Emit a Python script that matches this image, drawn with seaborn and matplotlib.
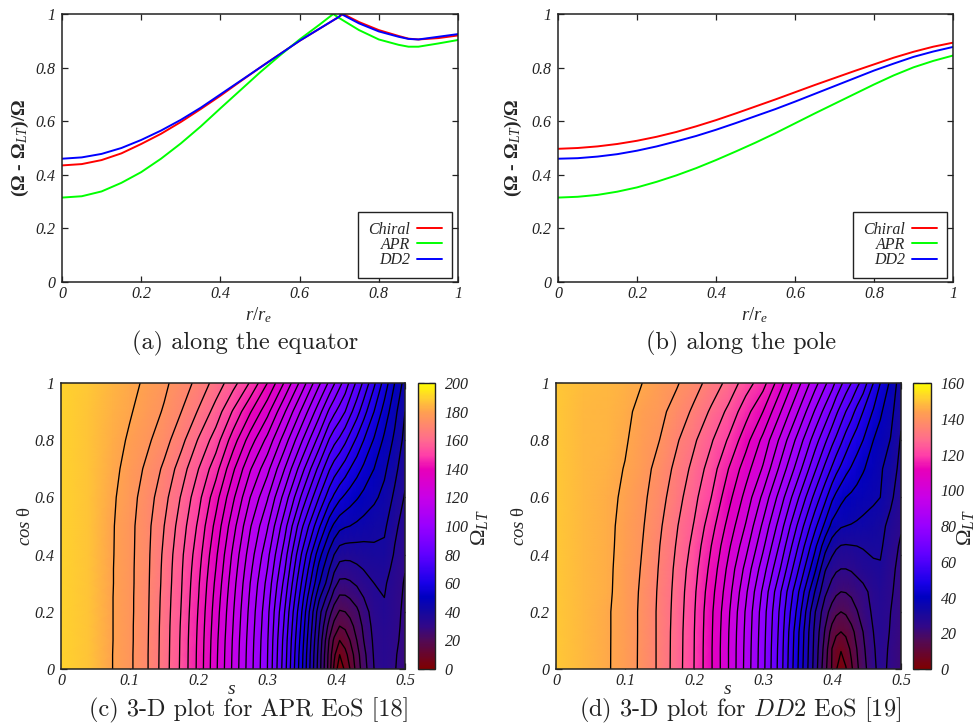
import numpy as np
import pandas as pd
import matplotlib
matplotlib.use("Agg")
import matplotlib.pyplot as plt
from matplotlib.colors import LinearSegmentedColormap
import seaborn as sns

# top panels
eq_chiral_x = [0, .05, .1, .15, .2, .25, .3, .35, .4, .45, .5, .55, .6, .65, .7, .71, .75, .8, .85, .875, .9, .95, 1]
eq_chiral_y = [.435, .44, .455, .48, .515, .553, .597, .645, .695, .748, .80, .85, .90, .945, .99, 1.0, .97, .94, .918, .908, .905, .91, .92]
eq_apr_x = [0, .05, .1, .15, .2, .25, .3, .35, .4, .45, .5, .55, .6, .65, .685, .7, .75, .8, .85, .875, .9, .95, 1]
eq_apr_y = [.315, .32, .338, .37, .41, .46, .517, .58, .648, .715, .782, .845, .905, .96, 1.0, .985, .94, .905, .885, .878, .878, .89, .903]
eq_dd2_x = [0, .05, .1, .15, .2, .25, .3, .35, .4, .45, .5, .55, .6, .65, .7, .705, .75, .8, .85, .875, .9, .95, 1]
eq_dd2_y = [.46, .465, .478, .5, .53, .565, .605, .65, .70, .75, .80, .85, .90, .945, .99, 1.0, .965, .935, .915, .907, .905, .915, .925]

pole_x = [0, .05, .1, .15, .2, .25, .3, .35, .4, .45, .5, .55, .6, .65, .7, .75, .8, .85, .9, .95, 1]
pole_chiral = [.497, .5, .506, .515, .527, .542, .56, .581, .604, .629, .655, .681, .708, .735, .761, .787, .812, .837, .859, .878, .893]
pole_apr = [.315, .318, .325, .337, .353, .374, .398, .425, .455, .487, .52, .555, .592, .629, .665, .701, .737, .771, .801, .825, .845]
pole_dd2 = [.46, .462, .468, .477, .49, .506, .525, .545, .568, .593, .619, .645, .673, .702, .731, .76, .789, .815, .84, .86, .877]

# bottom panels, values estimated from the contours and colours
apr_s = [0, .04, .075, .1, .125, .15, .175, .2, .225, .25, .275, .3, .325, .35, .375, .39, .397, .405, .413, .42, .43, .44, .455, .47, .485, .5]
apr_c = [0, .05, .1, .15, .2, .25, .3, .35, .4, .5, .6, .7, .8, .9, 1]
apr_vals = [
    [190, 187, 180, 176, 170.5, 162.5, 154, 143.5, 131, 119, 107, 95, 77, 56, 32.5, 17.5, 9, 1.5, 6, 10, 17, 22.7, 30, 33, 30.3, 27.5],
    [190, 187, 180, 176, 170.5, 162.6, 154.1, 143.6, 131.2, 119.2, 107.2, 95.2, 77.5, 56.5, 33, 18, 11, 5, 8.5, 12, 18, 23.5, 30.5, 33.2, 30.5, 28],
    [190, 187, 180.1, 176.1, 170.6, 162.7, 154.2, 143.8, 131.5, 119.5, 107.5, 95.5, 78, 57.5, 34, 19.5, 14, 10, 12, 15, 20, 25, 31, 33.5, 31, 28.5],
    [190, 187, 180.1, 176.1, 170.7, 162.8, 154.4, 144.1, 132, 120, 108, 96, 79, 58.7, 35.5, 23, 18.5, 15, 16, 18, 22, 26, 31.7, 34, 31.3, 28.8],
    [190, 187, 180.1, 176.2, 170.8, 163, 154.7, 144.5, 132.5, 120.5, 108.5, 96.5, 80, 60, 37, 27, 22.5, 19.5, 20, 21.5, 24, 27.5, 32.5, 34.5, 31.5, 29],
    [190, 187, 180.1, 176.2, 170.9, 163.2, 155, 145, 133.2, 121.2, 109.2, 97.5, 81.7, 62.2, 41, 32, 27.5, 24.2, 24.3, 25.3, 27, 30, 33.8, 35, 32, 29.2],
    [190, 187, 180.2, 176.3, 171, 163.5, 155.3, 145.5, 134, 122, 110, 98.5, 83.5, 64.5, 45.5, 37, 32, 28.8, 28.7, 29.3, 30.8, 32.8, 35, 35.7, 32.5, 29.5],
    [190, 187, 180.2, 176.3, 171.1, 163.7, 155.6, 146.2, 135, 123, 111.2, 100, 85.5, 67, 48.5, 40, 36, 33, 32.8, 33, 34, 35.2, 36.5, 37, 33.5, 30.2],
    [190, 187, 180.3, 176.4, 171.2, 164, 156, 147, 136, 124, 112.5, 101.5, 87.5, 69.5, 52, 43.5, 40, 37, 36.5, 36.5, 37, 37.5, 38.5, 38.5, 34.5, 31],
    [190, 187, 180.4, 176.5, 171.5, 165, 157.5, 149, 138.5, 127, 115.5, 105.5, 92, 76, 61, 52, 49, 46.5, 45.5, 45, 44, 43, 42, 41, 36, 33],
    [190, 187, 180.8, 177, 172.5, 166.7, 159.5, 151.5, 142, 131, 120, 110.5, 98, 84, 70, 62, 59, 56, 54, 52.5, 50.5, 48.5, 46, 43.5, 39, 34.5],
    [190, 187, 181.5, 178, 174, 169, 162.5, 155, 147, 136, 125.5, 116.5, 105, 92, 78.5, 70.5, 67.5, 65, 62.5, 60, 57, 54, 50, 46, 41.5, 36.5],
    [190, 187, 182.4, 179.2, 176, 172, 166.5, 159.5, 152.5, 142.5, 132.5, 123.5, 112.5, 100.5, 88, 79.5, 76.5, 74, 71, 68, 64, 60, 54.5, 49, 44, 38.5],
    [190, 187, 183.5, 180.5, 177.5, 174.5, 170, 164.5, 158, 149.5, 140.5, 131.5, 120.5, 109, 97, 89, 86, 83, 80, 76.5, 72, 67, 60, 53, 46.5, 40],
    [190, 188, 184, 181.5, 179, 176, 172.5, 168.5, 163, 157, 149.5, 140, 129.5, 118, 106, 99, 95.5, 91.5, 88, 84, 79, 74, 66, 58, 50, 43],
]

dd2_s = [0, .04, .075, .1, .125, .15, .175, .2, .225, .25, .275, .3, .325, .35, .375, .39, .4, .406, .413, .42, .428, .436, .445, .46, .47, .485, .5]
dd2_c = [0, .07, .13, .2, .27, .35, .43, .5, .6, .7, .8, .9, 1]
dd2_vals = [
    [150, 148, 145.5, 142.5, 139, 134, 127.5, 120, 110.5, 100, 88.5, 76.5, 62.5, 45.5, 28, 16.5, 9.6, 5.5, 1.5, 4.6, 9, 14, 18, 24, 26.5, 24, 21.5],
    [150, 148, 145.5, 142.6, 139, 134, 127.6, 120.1, 110.5, 100, 88.7, 76.7, 62.8, 46, 28.5, 17.8, 9.9, 7, 5.5, 7.5, 11, 15, 19, 24.5, 26.7, 24.3, 21.8],
    [150, 148, 145.5, 142.7, 139, 134, 127.7, 120.2, 110.7, 100.2, 89, 77, 63.3, 46.5, 29, 19.5, 13, 11, 10, 11, 13.5, 16.5, 20, 25, 27, 24.7, 22],
    [150, 148, 145.5, 142.7, 139, 134, 128, 120.5, 111, 100.8, 89.5, 77.5, 64, 48.7, 30.5, 22, 18, 16, 15, 15.7, 17.5, 19.7, 22, 26, 27.3, 25, 22.5],
    [150, 148, 145.8, 142.8, 139.2, 134.2, 128.3, 121, 111.9, 102, 91, 79, 65.6, 51.2, 35, 26, 22.5, 21, 20, 20.2, 21, 22.2, 23.5, 26.7, 28, 25.6, 23],
    [150, 148, 145.9, 143, 139.6, 134.6, 128.8, 122, 113.4, 103.7, 93.5, 82.3, 70, 56, 41.2, 30.5, 27, 25.7, 25, 25, 25.5, 26.5, 27.5, 29.3, 29.5, 26.2, 23.5],
    [150, 148, 146, 143.4, 140, 135.1, 129.6, 123.4, 115, 106, 96.8, 86, 74, 60.5, 46.5, 37, 32.5, 30.8, 29.8, 29.6, 29.8, 30, 30.4, 30.8, 30.8, 27.2, 24.3],
    [150, 148, 146, 143.7, 140.5, 135.8, 130.4, 124.7, 117, 108.3, 99.6, 89, 77.5, 64.5, 51.5, 43.7, 38.5, 37, 35.5, 35, 34.7, 34.3, 33.8, 32.5, 31.5, 28.5, 25.5],
    [150, 148, 146.2, 144.2, 141.2, 137, 132, 126.5, 120, 111.7, 103.3, 93.8, 82.7, 71, 58.5, 51.4, 46, 43.7, 41.5, 40, 39, 38, 37, 36, 35, 31, 27],
    [150, 148, 146.5, 144.8, 141.9, 138.3, 133.6, 128.5, 122.6, 115, 107.3, 99.4, 88.8, 77.8, 66, 58.7, 54.3, 51.5, 49, 46.5, 44.5, 42.5, 40.5, 37.5, 35.7, 32.5, 28.5],
    [150, 148, 147, 145.5, 142.8, 140, 135.6, 130.8, 125.6, 119.4, 112, 103.6, 94, 83.5, 72.5, 66, 61.4, 59, 56, 53, 50, 47.5, 45, 40, 38, 34.8, 29.5],
    [150, 148, 147.3, 146, 143.7, 141.3, 138.1, 134, 129.2, 123.8, 117, 110, 100.4, 90.4, 79.6, 73.3, 69, 66, 63, 60, 57, 53.5, 50, 44.5, 40.8, 36.5, 31],
    [150, 148.5, 147.5, 146.3, 145, 142.8, 140.5, 137, 133, 128.5, 122.5, 117, 107, 97, 87, 81, 77, 74, 71, 68, 65, 61.5, 58, 50, 45, 39, 32],
]

W, H = 975, 724
SERIF = "Liberation Serif"
COLORS = {"Chiral": "#ff0000", "APR": "#00ff00", "DD2": "#0000ff"}

sns.set_style("ticks")
plt.rcParams["font.family"] = [SERIF, "DejaVu Serif"]
plt.rcParams["mathtext.fontset"] = "custom"
plt.rcParams["mathtext.rm"] = SERIF
plt.rcParams["mathtext.it"] = SERIF + ":italic"
plt.rcParams["mathtext.bf"] = SERIF + ":bold"

palette = LinearSegmentedColormap.from_list("omega", [
    (0, "#800000"), (.1, "#500a58"), (.15, "#30088a"), (.2, "#1408a0"), (.25, "#0000c0"), (.3, "#1800e8"),
    (.4, "#6000ff"), (.5, "#9800ff"), (.6, "#c800e8"), (.7, "#e800b8"), (.75, "#ff40a8"),
    (.8, "#ff6a90"), (.9, "#ffa050"), (.95, "#ffd030"), (1, "#ffff00"),
])

fig = plt.figure(figsize=(W / 100, H / 100), dpi=100)


def px_axes(x0, y0, x1, y1):
    return fig.add_axes([x0 / W, 1 - y1 / H, (x1 - x0) / W, (y1 - y0) / H])


def style_ticks(ax, xticks, yticks):
    ax.set_xticks(xticks)
    ax.set_yticks(yticks)
    ax.set_xticklabels([f"{t:g}" for t in xticks], fontstyle="italic", fontsize=11.5)
    ax.set_yticklabels([f"{t:g}" for t in yticks], fontstyle="italic", fontsize=11.5)
    ax.tick_params(direction="in", top=True, right=True, length=4, width=0.9, colors="#222222")
    ax.tick_params(axis="x", pad=3)
    ax.tick_params(axis="y", pad=5)
    for sp in ax.spines.values():
        sp.set_visible(True)
        sp.set_linewidth(1.1)
        sp.set_color("#222222")


def caption(x, y, txt):
    fig.text(x / W, 1 - y / H, txt, ha="center", va="center", fontsize=17.5,
             family="cmr10", math_fontfamily="cm", color="#222222")


def line_panel(box, data, lx, ly, title_x, title_y, title):
    ax = px_axes(*box)
    sns.lineplot(data=data, x="x", y="y", hue="eos", palette=COLORS, errorbar=None,
                 linewidth=1.4, ax=ax, sort=True)
    ax.set_xlim(0, 1)
    ax.set_ylim(0, 1)
    style_ticks(ax, [0, .2, .4, .6, .8, 1], [0, .2, .4, .6, .8, 1])
    ax.set_xlabel("")
    ax.set_ylabel("")
    fig.text(lx[0] / W, 1 - lx[1] / H, r"$r/r_e$", ha="center", va="center", fontsize=13.5)
    fig.text(ly[0] / W, 1 - ly[1] / H, "(Ω - Ω$_{LT}$)/Ω", rotation=90, ha="center", va="center",
             fontsize=14, fontweight="bold")
    leg = ax.legend(loc="lower right", bbox_to_anchor=(1 - 6 / (box[2] - box[0]), 4 / (box[3] - box[1])),
                    borderaxespad=0, markerfirst=False, fancybox=False, framealpha=1, edgecolor="#222222",
                    prop={"family": SERIF, "style": "italic", "size": 11.5}, handlelength=1.6,
                    labelspacing=-0.05, borderpad=0.62, handletextpad=0.4, title=None)
    leg.get_frame().set_linewidth(1.0)
    leg.set_zorder(5)
    caption(title_x, title_y, title)
    return ax


def map_panel(box, cbox, s, c, vals, vmax, levels, cticks, label_x, title_x, title):
    ax = px_axes(*box)
    Z = np.array(vals)
    mesh = ax.pcolormesh(s, c, Z, cmap=palette, vmin=0, vmax=vmax, shading="gouraud")
    ax.contour(s, c, Z, levels=levels, colors="black", linewidths=0.95)
    ax.set_xlim(0, 0.5)
    ax.set_ylim(0, 1)
    style_ticks(ax, [0, .1, .2, .3, .4, .5], [0, .2, .4, .6, .8, 1])
    ax.set_xlabel("")
    ax.set_ylabel("")
    cx = (box[0] + box[2]) / 2
    fig.text((cx - 1) / W, 1 - 690 / H, "s", ha="center", va="center", fontsize=14, fontstyle="italic")
    fig.text((box[0] - 36) / W, 1 - 526 / H, r"$cos$ θ", rotation=90, ha="center", va="center", fontsize=13.5)

    cax = px_axes(*cbox)
    cb = fig.colorbar(mesh, cax=cax)
    cb.set_ticks(cticks)
    cb.ax.set_yticklabels([str(t) for t in cticks], fontstyle="italic", fontsize=11.5)
    cb.ax.tick_params(direction="in", left=True, right=True, labelleft=False, labelright=True,
                      length=4, width=0.9, pad=7, colors="#222222")
    cb.outline.set_linewidth(1.0)
    cb.outline.set_edgecolor("#222222")
    fig.text(label_x / W, 1 - 528 / H, r"$\Omega_{LT}$", rotation=90, ha="center", va="center", fontsize=16)
    caption(title_x, 710, title)


eq_frame = pd.concat([
    pd.DataFrame({"x": eq_chiral_x, "y": eq_chiral_y, "eos": "Chiral"}),
    pd.DataFrame({"x": eq_apr_x, "y": eq_apr_y, "eos": "APR"}),
    pd.DataFrame({"x": eq_dd2_x, "y": eq_dd2_y, "eos": "DD2"}),
])
pole_frame = pd.concat([
    pd.DataFrame({"x": pole_x, "y": pole_chiral, "eos": "Chiral"}),
    pd.DataFrame({"x": pole_x, "y": pole_apr, "eos": "APR"}),
    pd.DataFrame({"x": pole_x, "y": pole_dd2, "eos": "DD2"}),
])

line_panel((62, 14, 458, 282), eq_frame, (259, 315), (20, 148), 245, 343, "(a) along the equator")
line_panel((558, 14, 953, 282), pole_frame, (755, 315), (513, 148), 741, 343, "(b) along the pole")

map_panel((61, 383, 405, 669), (418, 383, 435, 669), apr_s, apr_c, apr_vals, 200,
          np.arange(5, 185, 5), list(range(0, 201, 20)), 479, 249, "(c) 3-D plot for APR EoS [18]")
map_panel((556, 383, 901, 669), (913, 383, 931, 669), dd2_s, dd2_c, dd2_vals, 160,
          np.arange(5, 150, 5), list(range(0, 161, 20)), 965, 740, "(d) 3-D plot for $DD2$ EoS [19]")

plt.savefig("out.png", dpi=100)
